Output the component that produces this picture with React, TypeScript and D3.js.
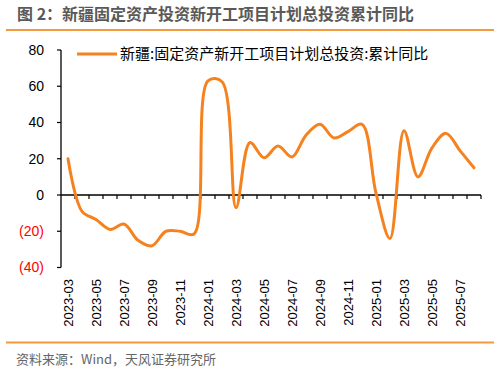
import React from "react";
import * as d3 from "d3";

const months = [
  "2023-03","2023-04","2023-05","2023-06","2023-07","2023-08","2023-09","2023-10","2023-11","2023-12",
  "2024-01","2024-02","2024-03","2024-04","2024-05","2024-06","2024-07","2024-08","2024-09","2024-10",
  "2024-11","2024-12","2025-01","2025-02","2025-03","2025-04","2025-05","2025-06","2025-07","2025-08",
];
const values = [
  20, -9, -13.5, -19, -16, -25, -28, -20, -20, -21.5,
  63, 62.5, -7, 29, 20.5, 27, 21, 33, 39, 31.5,
  35, 39, 1, -24, 35.5, 10, 26, 34, 24.5, 15,
];
const yTicks = [80, 60, 40, 20, 0, -20, -40];
const labelMonths = ["2023-03","2023-05","2023-07","2023-09","2023-11","2024-01","2024-03","2024-05","2024-07","2024-09","2024-11","2025-01","2025-03","2025-05","2025-07"];
const title = "图 2：新疆固定资产投资新开工项目计划总投资累计同比";
const seriesName = "新疆:固定资产新开工项目计划总投资:累计同比";
const source = "资料来源：Wind，天风证券研究所";

const W = 499, H = 372;
const ORANGE = "#F5821F";
const RULE = "#F39A3F";
const FONT_NUM = "'Liberation Sans', Arial, sans-serif";
const FONT_CJK = "'Noto Sans CJK SC', 'Liberation Sans', sans-serif";

export default function App() {
  const x = d3.scaleBand<string>().domain(months).range([61, 481]).padding(0);
  const y = d3.scaleLinear().domain([-40, 80]).range([267.5, 50]);
  const cx = (m: string) => (x(m) as number) + x.bandwidth() / 2;
  const line = d3
    .line<number>()
    .x((_, i) => cx(months[i]))
    .y((d) => y(d))
    .curve(d3.curveCatmullRom.alpha(0.5));
  const tickXs = d3.range(months.length + 1).map((i) => 61 + i * x.bandwidth()).slice(1);
  const fmt = (v: number) => (v < 0 ? `(${Math.abs(v)})` : `${v}`);

  return (
    <svg width={W} height={H} style={{ position: "absolute", left: 0, top: 0, background: "#fff" }}>
      <text x={17} y={20} fontFamily={FONT_CJK} fontSize={16} fontWeight="bold" fill="#595959">{title}</text>
      <line x1={6} x2={494} y1={30} y2={30} stroke={RULE} strokeWidth={2} />

      {/* y axis */}
      <line x1={61} x2={61} y1={y(80)} y2={y(-40)} stroke="#000" strokeWidth={1.3} />
      {yTicks.map((t) => (
        <g key={t}>
          <line x1={57} x2={61} y1={y(t)} y2={y(t)} stroke="#000" strokeWidth={1.2} />
          <text x={44} y={y(t)} dy="0.35em" textAnchor="end" fontFamily={FONT_NUM} fontSize={14} fill={t < 0 ? "#FF0000" : "#000"}>{fmt(t)}</text>
        </g>
      ))}

      {/* zero line */}
      <line x1={61} x2={481} y1={y(0)} y2={y(0)} stroke="#000" strokeWidth={1.3} />
      {tickXs.map((tx, i) => (
        <line key={i} x1={tx} x2={tx} y1={y(0)} y2={y(0) + 4} stroke="#000" strokeWidth={1.2} />
      ))}

      {/* x labels */}
      {labelMonths.map((m) => (
        <text key={m} transform={`translate(${cx(m) + 5},279) rotate(-90)`} textAnchor="end" fontFamily={FONT_NUM} fontSize={13} fill="#000">{m}</text>
      ))}

      <path d={line(values) as string} fill="none" stroke={ORANGE} strokeWidth={3} strokeLinejoin="round" strokeLinecap="round" />

      {/* legend */}
      <line x1={77} x2={117} y1={54} y2={54} stroke={ORANGE} strokeWidth={3} />
      <text x={120} y={54} dy="0.35em" fontFamily={FONT_CJK} fontSize={15} fill="#000">{seriesName}</text>

      <line x1={6} x2={494} y1={342.5} y2={342.5} stroke={RULE} strokeWidth={2} />
      <text x={16} y={364} fontFamily={FONT_CJK} fontSize={13} fill="#666">{source}</text>
    </svg>
  );
}
